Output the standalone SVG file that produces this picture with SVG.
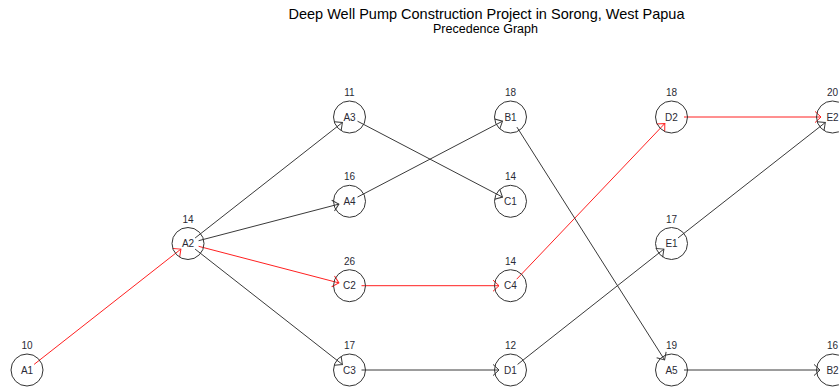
<svg xmlns="http://www.w3.org/2000/svg" width="839" height="387" viewBox="0 0 839 387">
<style>
text{font-family:"Liberation Sans",Arial,sans-serif;fill:#2a2a35;text-anchor:middle}
.t{font-size:14.5px;fill:#000}
.s{font-size:12.5px;fill:#000}
.lab{font-size:10px}
.num{font-size:10px}
circle{fill:none;stroke:#333;stroke-width:1}
.e{stroke:#3a3a3a;stroke-width:1;fill:none;marker-end:url(#ab)}
.r{stroke:#ff2020;stroke-width:1;fill:none;marker-end:url(#ar)}
</style>
<defs>
<marker id="ab" markerUnits="userSpaceOnUse" markerWidth="16" markerHeight="16" viewBox="-9 -8 12 16" refX="0" refY="0" orient="auto" overflow="visible">
<path d="M-6,-5.6 L0,0 L-6,5.6" fill="none" stroke="#3a3a3a" stroke-width="1"/>
</marker>
<marker id="ar" markerUnits="userSpaceOnUse" markerWidth="16" markerHeight="16" viewBox="-9 -8 12 16" refX="0" refY="0" orient="auto" overflow="visible">
<path d="M-6,-5.6 L0,0 L-6,5.6" fill="none" stroke="#ff2020" stroke-width="1"/>
</marker>
</defs>
<rect width="839" height="387" fill="#fff"/>
<text class="t" x="486.5" y="19">Deep Well Pump Construction Project in Sorong, West Papua</text>
<text class="s" x="485.5" y="33">Precedence Graph</text>
<g id="edges">
<line class="r" x1="34.1" y1="364.4" x2="180.9" y2="249.1"/>
<line class="e" x1="195.1" y1="238" x2="342.4" y2="122.5"/>
<line class="e" x1="198.6" y1="240.7" x2="338.9" y2="204.1"/>
<line class="r" x1="198.6" y1="246.3" x2="338.9" y2="282.9"/>
<line class="e" x1="195.1" y1="249.1" x2="342.4" y2="364.5"/>
<line class="e" x1="357.5" y1="121.2" x2="502.5" y2="197.1"/>
<line class="e" x1="357.5" y1="197.1" x2="502.5" y2="121.2"/>
<line class="r" x1="361.5" y1="285.7" x2="499" y2="285.7"/>
<line class="e" x1="361.5" y1="370" x2="499" y2="370"/>
<line class="r" x1="516.7" y1="279.2" x2="664.8" y2="123.5"/>
<line class="e" x1="517.6" y1="364.4" x2="663.9" y2="249.1"/>
<line class="e" x1="516.9" y1="127.1" x2="664.6" y2="359.9"/>
<line class="r" x1="684" y1="117" x2="821" y2="117"/>
<line class="e" x1="678.1" y1="237.9" x2="825.3" y2="122.5"/>
<line class="e" x1="684" y1="370" x2="820" y2="370"/>
</g>
<g id="A1"><circle cx="27" cy="370" r="16"/><text class="num" x="27" y="349">10</text><text class="lab" x="27" y="373.6">A1</text></g>
<g id="A2"><circle cx="188" cy="243.5" r="16"/><text class="num" x="188" y="222.5">14</text><text class="lab" x="188" y="247.1">A2</text></g>
<g id="A3"><circle cx="349.5" cy="117" r="16"/><text class="num" x="349.5" y="96">11</text><text class="lab" x="349.5" y="120.6">A3</text></g>
<g id="A4"><circle cx="349.5" cy="201.3" r="16"/><text class="num" x="349.5" y="180.3">16</text><text class="lab" x="349.5" y="204.9">A4</text></g>
<g id="C2"><circle cx="349.5" cy="285.7" r="16"/><text class="num" x="349.5" y="264.7">26</text><text class="lab" x="349.5" y="289.3">C2</text></g>
<g id="C3"><circle cx="349.5" cy="370" r="16"/><text class="num" x="349.5" y="349">17</text><text class="lab" x="349.5" y="373.6">C3</text></g>
<g id="B1"><circle cx="510.5" cy="117" r="16"/><text class="num" x="510.5" y="96">18</text><text class="lab" x="510.5" y="120.6">B1</text></g>
<g id="C1"><circle cx="510.5" cy="201.3" r="16"/><text class="num" x="510.5" y="180.3">14</text><text class="lab" x="510.5" y="204.9">C1</text></g>
<g id="C4"><circle cx="510.5" cy="285.7" r="16"/><text class="num" x="510.5" y="264.7">14</text><text class="lab" x="510.5" y="289.3">C4</text></g>
<g id="D1"><circle cx="510.5" cy="370" r="16"/><text class="num" x="510.5" y="349">12</text><text class="lab" x="510.5" y="373.6">D1</text></g>
<g id="D2"><circle cx="671.5" cy="117" r="16"/><text class="num" x="671.5" y="96">18</text><text class="lab" x="671.5" y="120.6">D2</text></g>
<g id="E1"><circle cx="671.5" cy="243.5" r="16"/><text class="num" x="671.5" y="222.5">17</text><text class="lab" x="671.5" y="247.1">E1</text></g>
<g id="A5"><circle cx="671.5" cy="370" r="16"/><text class="num" x="671.5" y="349">19</text><text class="lab" x="671.5" y="373.6">A5</text></g>
<g id="E2"><circle cx="832.5" cy="117" r="16"/><text class="num" x="832.5" y="96">20</text><text class="lab" x="832.5" y="120.6">E2</text></g>
<g id="B2"><circle cx="832.5" cy="370" r="16"/><text class="num" x="832.5" y="349">16</text><text class="lab" x="832.5" y="373.6">B2</text></g>
</svg>
